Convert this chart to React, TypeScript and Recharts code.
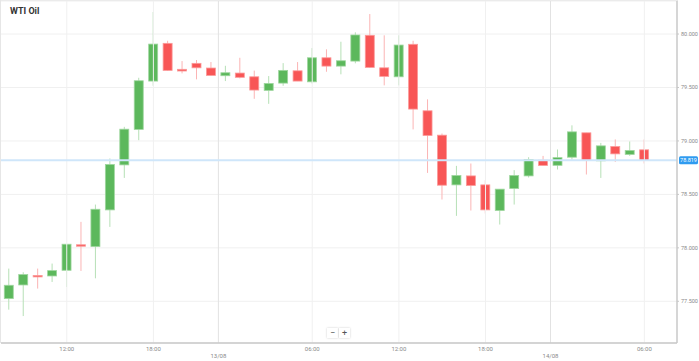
import { ComposedChart, Bar, XAxis, YAxis, CartesianGrid, ReferenceLine } from "recharts"

const opens = [77.525, 77.653, 77.742, 77.737, 77.79, 78.029, 78.012, 78.355, 78.776, 79.108, 79.56, 79.913, 79.67, 79.726, 79.682, 79.61, 79.635, 79.6, 79.473, 79.541, 79.656, 79.553, 79.778, 79.7, 79.747, 79.988, 79.684, 79.6, 79.904, 79.282, 79.054, 78.589, 78.673, 78.589, 78.349, 78.555, 78.673, 78.82, 78.772, 78.848, 79.076, 78.814, 78.948, 78.874, 78.917]
const closes = [77.65, 77.75, 77.732, 77.787, 78.034, 78.02, 78.361, 78.78, 79.11, 79.563, 79.906, 79.66, 79.654, 79.684, 79.613, 79.638, 79.595, 79.476, 79.538, 79.66, 79.56, 79.778, 79.7, 79.75, 79.991, 79.688, 79.604, 79.897, 79.298, 79.051, 78.586, 78.677, 78.583, 78.355, 78.549, 78.677, 78.827, 78.771, 78.844, 79.085, 78.82, 78.954, 78.879, 78.911, 78.819]
const highs = [77.806, 77.772, 77.806, 77.853, 78.036, 78.243, 78.405, 78.836, 79.132, 79.591, 80.206, 79.937, 79.747, 79.757, 79.738, 79.703, 79.778, 79.658, 79.607, 79.728, 79.738, 79.869, 79.857, 79.928, 80.016, 80.187, 79.988, 79.988, 79.937, 79.389, 79.07, 78.767, 78.789, 78.633, 78.549, 78.727, 78.848, 78.86, 78.92, 79.146, 79.076, 78.982, 79.014, 78.995, 79.014]
const lows = [77.422, 77.362, 77.619, 77.681, 77.634, 77.784, 77.715, 78.196, 78.654, 79.007, 79.516, 79.656, 79.632, 79.576, 79.613, 79.56, 79.585, 79.394, 79.347, 79.516, 79.56, 79.538, 79.647, 79.623, 79.726, 79.682, 79.52, 79.52, 79.108, 78.701, 78.452, 78.299, 78.349, 78.321, 78.218, 78.405, 78.658, 78.771, 78.733, 78.825, 78.686, 78.654, 78.804, 78.86, 78.789]

// x positions of the axis labels, in candle units (one candle = one hour, the break hour is skipped)
const tickPositions = [4, 10, 14.5, 21, 27, 33, 37.5, 44]
const tickLabels = ["12:00", "18:00", "13/08", "06:00", "12:00", "18:00", "14/08", "06:00"]
const dateTicks = ["13/08", "14/08"]
const priceTicks = [77.5, 78, 78.5, 79, 79.5, 80]

const data = opens.map((o, i) => ({
  i,
  open: o,
  close: closes[i],
  high: highs[i],
  low: lows[i],
}))

const lastPrice = closes[closes.length - 1]

const GREEN = "#5cb85c"
const RED = "#f85656"

const Candle = (props: any) => {
  const { x, y, width, height, payload } = props
  const { open, close, high, low } = payload
  const up = close >= open
  const k = height / (high - low)
  const cx = x + width / 2
  const yo = y + (high - open) * k
  const yc = y + (high - close) * k
  const top = Math.min(yo, yc)
  const h = Math.max(Math.abs(yo - yc), 1.5)
  return (
    <g>
      <line x1={cx} x2={cx} y1={y} y2={y + height} stroke={up ? "#b6e0b6" : "#fbb4b4"} strokeWidth={1} />
      <rect
        x={cx - 4.5}
        y={top}
        width={9}
        height={h}
        fill={up ? GREEN : RED}
        stroke={up ? "#9ed69e" : "#fb9a9a"}
        strokeWidth={0.8}
      />
    </g>
  )
}

const XTick = (props: any) => {
  const { x, payload } = props
  const idx = tickPositions.indexOf(payload.value)
  const label = tickLabels[idx]
  const isDate = dateTicks.includes(label)
  return (
    <text
      x={x}
      y={isDate ? 358 : 351}
      textAnchor="middle"
      fontSize={6}
      fill="#8a8a8a"
      fontFamily="Roboto, sans-serif"
    >
      {label}
    </text>
  )
}

const PriceTag = (props: any) => {
  const { viewBox } = props
  const right = viewBox.x + viewBox.width
  return (
    <g>
      <rect x={right + 2} y={viewBox.y - 4} width={19} height={8} rx={1.5} fill="#2f9bf0" />
      <text
        x={right + 11.5}
        y={viewBox.y + 2}
        textAnchor="middle"
        fontSize={5.5}
        fill="#fff"
        fontFamily="Roboto, sans-serif"
      >
        {lastPrice.toFixed(3)}
      </text>
    </g>
  )
}

export default function App() {
  return (
    <div
      style={{
        position: "fixed",
        left: 0,
        top: 0,
        width: 699,
        height: 361,
        background: "#fff",
        overflow: "hidden",
        fontFamily: "Roboto, sans-serif",
      }}
    >
      <div
        style={{
          position: "absolute",
          left: 0,
          top: 0,
          width: 677,
          height: 342,
          borderTop: "1px solid #e6e6e6",
          borderLeft: "1px solid #e6e6e6",
        }}
      />
      <ComposedChart
        width={699}
        height={361}
        data={data}
        margin={{ top: 1, right: 0, bottom: 0, left: 1 }}
        style={{ position: "absolute", left: 0, top: 0 }}
      >
        <CartesianGrid horizontal vertical={false} stroke="#f0f0f0" />
        {tickPositions.map((t, i) => (
          <ReferenceLine
            key={i}
            x={t}
            stroke={dateTicks.includes(tickLabels[i]) ? "#e2e2e2" : "#f0f0f0"}
            strokeWidth={1}
          />
        ))}
        <XAxis
          dataKey="i"
          type="number"
          domain={[-0.554, 46.26]}
          ticks={tickPositions}
          allowDecimals
          interval={0}
          height={18}
          axisLine={{ stroke: "#c8c8c8", strokeWidth: 1.5 }}
          tickLine={false}
          tick={<XTick />}
        />
        <YAxis
          orientation="right"
          domain={[77.11, 80.309]}
          ticks={priceTicks}
          width={22}
          allowDataOverflow
          axisLine={{ stroke: "#c8c8c8", strokeWidth: 1.5 }}
          tickLine={{ stroke: "#c8c8c8" }}
          tickSize={2}
          tick={{ fontSize: 5.5, fill: "#8a8a8a", fontFamily: "Roboto, sans-serif" }}
          tickFormatter={(v: number) => v.toFixed(3)}
        />
        <ReferenceLine y={lastPrice} stroke="#cfe6fa" strokeWidth={2} label={<PriceTag />} />
        <Bar
          dataKey={(d: any) => [d.low, d.high]}
          barSize={10}
          shape={<Candle />}
          isAnimationActive={false}
        />
      </ComposedChart>
      <div
        style={{
          position: "absolute",
          left: 10,
          top: 6,
          fontSize: 9,
          fontWeight: "bold",
          color: "#333",
        }}
      >
        WTI Oil
      </div>
      <div
        style={{
          position: "absolute",
          left: 327,
          top: 328,
          display: "flex",
          gap: 1,
          fontSize: 9,
          color: "#555",
          lineHeight: "10px",
        }}
      >
        <div style={{ width: 11, height: 10, textAlign: "center", background: "#fff", boxShadow: "0 0 2px #ccc" }}>−</div>
        <div style={{ width: 11, height: 10, textAlign: "center", background: "#fff", boxShadow: "0 0 2px #ccc" }}>+</div>
      </div>
    </div>
  )
}
